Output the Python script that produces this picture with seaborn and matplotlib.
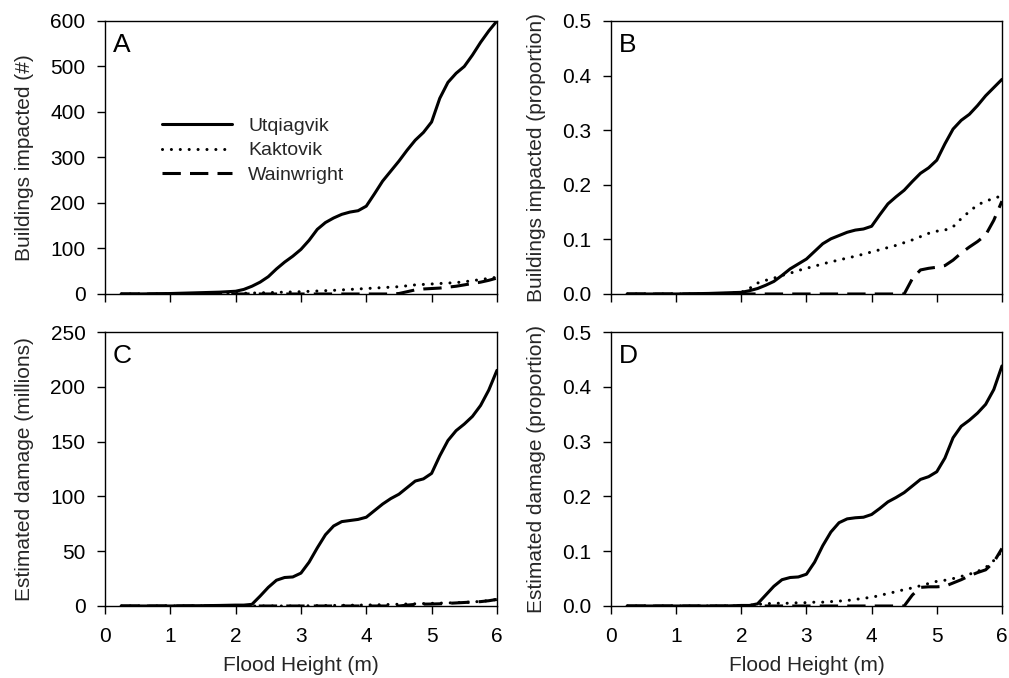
import matplotlib
matplotlib.use("Agg")
import matplotlib.pyplot as plt
import seaborn as sns
import pandas as pd

# ---------------- data ----------------
towns = ["Utqiagvik", "Kaktovik", "Wainwright"]

flood_height = [0.25, 0.5, 0.75, 1.0, 1.25, 1.5, 1.75, 2.0,
                2.125, 2.25, 2.375, 2.5, 2.625, 2.75, 2.875, 3.0,
                3.125, 3.25, 3.375, 3.5, 3.625, 3.75, 3.875, 4.0,
                4.125, 4.25, 4.375, 4.5, 4.625, 4.75, 4.875, 5.0,
                5.125, 5.25, 5.375, 5.5, 5.625, 5.75, 5.875, 6.0]

# Panel A: buildings impacted (#)
a_utqiagvik = [0, 0, 0.5, 1, 2, 3, 4, 6,
               10, 17, 26, 38, 55, 70, 83, 98,
               118, 142, 157, 167, 175, 180, 183, 193,
               220, 248, 270, 292, 316, 338, 355, 378,
               430, 465, 485, 500, 525, 553, 578, 600]
a_kaktovik = [0, 0, 0, 0, 0, 0, 0.3, 1,
              1.5, 2, 2.5, 3, 3.5, 4, 4.5, 5,
              5.8, 6.5, 7.3, 8, 9, 10, 11, 12,
              13, 14, 15, 16, 18, 20, 21, 22,
              23, 24, 25, 27, 29, 32, 34, 37]
a_wainwright = [0, 0, 0, 0, 0, 0, 0, 0,
                0, 0, 0, 0, 0, 0, 0, 0,
                0, 0, 0, 0, 0, 0, 0, 0,
                0, 0, 0, 1, 5, 9, 11, 12,
                13, 15, 17, 20, 23, 26, 30, 35]

# Panel B: buildings impacted (proportion)
b_utqiagvik = [0, 0, 0, 0, 0.0005, 0.001, 0.002, 0.003,
               0.006, 0.01, 0.016, 0.023, 0.034, 0.046, 0.055, 0.064,
               0.078, 0.092, 0.101, 0.107, 0.113, 0.117, 0.119, 0.124,
               0.145, 0.165, 0.178, 0.19, 0.206, 0.221, 0.231, 0.245,
               0.275, 0.302, 0.318, 0.329, 0.345, 0.363, 0.378, 0.393]
b_kaktovik = [0, 0, 0, 0, 0, 0.0005, 0.001, 0.003,
              0.01, 0.02, 0.025, 0.029, 0.034, 0.038, 0.043, 0.047,
              0.051, 0.055, 0.059, 0.062, 0.066, 0.069, 0.073, 0.077,
              0.081, 0.085, 0.089, 0.094, 0.099, 0.105, 0.111, 0.115,
              0.117, 0.123, 0.138, 0.151, 0.163, 0.170, 0.175, 0.180]
b_wainwright = [0, 0, 0, 0, 0, 0, 0, 0,
                0, 0, 0, 0, 0, 0, 0, 0,
                0, 0, 0, 0, 0, 0, 0, 0,
                0, 0, 0, 0, 0.028, 0.044, 0.047, 0.049,
                0.052, 0.062, 0.075, 0.086, 0.096, 0.108, 0.135, 0.17]

# Panel C: estimated damage (millions)
c_utqiagvik = [0, 0, 0, 0, 0.2, 0.3, 0.5, 0.8,
               0.8, 1.5, 9, 17, 23.5, 26, 26.5, 30,
               40, 53, 65, 73, 77, 78, 79, 81,
               87, 93, 98, 102, 108, 114, 116, 121,
               137, 151, 160, 166, 173, 183, 197, 215]
c_kaktovik = [0, 0, 0, 0, 0, 0, 0, 0,
              0, 0, 0, 0, 0, 0, 0, 0,
              0.2, 0.3, 0.4, 0.5, 0.6, 0.7, 0.8, 0.9,
              1.0, 1.2, 1.4, 1.6, 1.8, 2.0, 2.2, 2.4,
              2.6, 2.8, 3.0, 3.3, 3.7, 4.2, 4.9, 6.0]
c_wainwright = [0, 0, 0, 0, 0, 0, 0, 0,
                0, 0, 0, 0, 0, 0, 0, 0,
                0, 0, 0, 0, 0, 0, 0, 0,
                0, 0, 0, 0, 0.8, 1.5, 1.7, 1.8,
                2.0, 2.4, 2.8, 3.2, 3.6, 4.0, 4.8, 6.0]

# Panel D: estimated damage (proportion)
d_utqiagvik = [0, 0, 0, 0, 0, 0, 0, 0.001,
               0.001, 0.004, 0.02, 0.036, 0.048, 0.052, 0.053, 0.058,
               0.08, 0.11, 0.135, 0.152, 0.159, 0.161, 0.162, 0.167,
               0.178, 0.19, 0.198, 0.207, 0.219, 0.231, 0.236, 0.245,
               0.27, 0.307, 0.328, 0.339, 0.352, 0.368, 0.395, 0.438]
d_kaktovik = [0, 0, 0, 0, 0, 0, 0, 0,
              0.001, 0.003, 0.004, 0.005, 0.005, 0.005, 0.006, 0.006,
              0.007, 0.007, 0.008, 0.009, 0.010, 0.012, 0.014, 0.016,
              0.019, 0.023, 0.026, 0.030, 0.033, 0.037, 0.041, 0.045,
              0.047, 0.050, 0.054, 0.058, 0.063, 0.070, 0.083, 0.100]
d_wainwright = [0, 0, 0, 0, 0, 0, 0, 0,
                0, 0, 0, 0, 0, 0, 0, 0,
                0, 0, 0, 0, 0, 0, 0, 0,
                0, 0, 0, 0, 0.02, 0.034, 0.035, 0.035,
                0.036, 0.042, 0.048, 0.055, 0.061, 0.066, 0.08, 0.105]

panel_letters = ["A", "B", "C", "D"]
y_labels = ["Buildings impacted (#)", "Buildings impacted (proportion)",
            "Estimated damage (millions)", "Estimated damage (proportion)"]
y_ticks = [[0, 100, 200, 300, 400, 500, 600],
           [0.0, 0.1, 0.2, 0.3, 0.4, 0.5],
           [0, 50, 100, 150, 200, 250],
           [0.0, 0.1, 0.2, 0.3, 0.4, 0.5]]
y_ticklabels = [["0", "100", "200", "300", "400", "500", "600"],
                ["0.0", "0.1", "0.2", "0.3", "0.4", "0.5"],
                ["0", "50", "100", "150", "200", "250"],
                ["0.0", "0.1", "0.2", "0.3", "0.4", "0.5"]]
x_ticks = [0, 1, 2, 3, 4, 5, 6]
x_label = "Flood Height (m)"

panel_series = [
    [a_utqiagvik, a_kaktovik, a_wainwright],
    [b_utqiagvik, b_kaktovik, b_wainwright],
    [c_utqiagvik, c_kaktovik, c_wainwright],
    [d_utqiagvik, d_kaktovik, d_wainwright],
]

# ---------------- style ----------------
sns.set_style("ticks")
plt.rcParams["font.family"] = ["Liberation Sans", "DejaVu Sans"]
plt.rcParams["axes.edgecolor"] = "black"
plt.rcParams["axes.linewidth"] = 1.0

styles = {
    "Utqiagvik": dict(linestyle="-", capstyle="butt"),
    "Kaktovik": dict(linestyle=(0, (0.01, 2.9)), capstyle="round"),
    "Wainwright": dict(linestyle=(0, (6, 3)), capstyle="butt"),
}

fig = plt.figure(figsize=(10.09, 6.78), dpi=100)
positions = [
    [0.104, 0.5664, 0.3885, 0.4027],
    [0.6055, 0.5664, 0.3875, 0.4027],
    [0.104, 0.1062, 0.3885, 0.4041],
    [0.6055, 0.1062, 0.3875, 0.4041],
]

for i in range(4):
    ax = fig.add_axes(positions[i])
    for town, vals in zip(towns, panel_series[i]):
        df = pd.DataFrame({"Flood Height": flood_height, "value": vals})
        sns.lineplot(data=df, x="Flood Height", y="value", ax=ax,
                     color="black", linewidth=2.2, label=town,
                     legend=False, estimator=None)
        line = ax.lines[-1]
        line.set_linestyle(styles[town]["linestyle"])
        line.set_dash_capstyle(styles[town]["capstyle"])
        line.set_solid_capstyle("round")
        line.set_solid_joinstyle("round")
    ax.set_xlim(0, 6)
    ax.set_ylim(y_ticks[i][0], y_ticks[i][-1])
    ax.set_xticks(x_ticks)
    ax.set_yticks(y_ticks[i])
    ax.set_yticklabels(y_ticklabels[i])
    if i >= 2:
        ax.set_xticklabels([str(t) for t in x_ticks])
        ax.set_xlabel(x_label, fontsize=15, labelpad=7)
    else:
        ax.set_xticklabels([])
        ax.set_xlabel("")
    ax.set_ylabel(y_labels[i], fontsize=15, labelpad=12)
    ax.tick_params(axis="both", direction="out", length=6, width=1,
                   labelsize=15, colors="black")
    ax.tick_params(axis="y", pad=8)
    ax.tick_params(axis="x", pad=9)
    for s in ax.spines.values():
        s.set_visible(True)
        s.set_color("black")
        s.set_linewidth(1.0)
    ax.text(0.02, 0.955, panel_letters[i], transform=ax.transAxes,
            ha="left", va="top", fontsize=19, color="black")
    if i == 0:
        ax.legend(loc="center left", bbox_to_anchor=(0.145, 0.525),
                  frameon=False, fontsize=14, handlelength=3.6,
                  handletextpad=0.85, labelspacing=0.35, borderpad=0,
                  borderaxespad=0)

fig.savefig("out.png", dpi=100)
